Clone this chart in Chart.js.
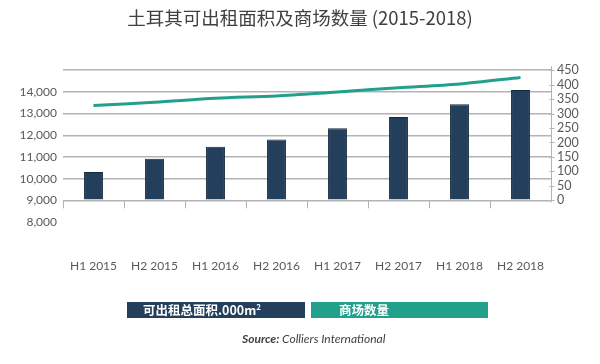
<!DOCTYPE html>
<html>
<head>
<meta charset="utf-8">
<script src="https://cdn.jsdelivr.net/npm/chart.js@4.4.0/dist/chart.umd.min.js"></script>
<style>
    html, body { margin: 0; padding: 0; background: #ffffff; }
    #wrap { position: relative; width: 600px; height: 364px; }
    #legend { position: absolute; left: 0; top: 0; }
    .lg { position: absolute; top: 302px; height: 16px; color: #fff; font: bold 12.5px "Noto Sans CJK SC", Lato, sans-serif; line-height: 16px; white-space: nowrap; }
    .lg sup { font-size: 8px; line-height: 0; }
    #source { position: absolute; left: 242px; top: 331px; font: italic 12px Lato, "Open Sans", sans-serif; color: #404040; }
</style>
</head>
<body>
<div id="wrap">
    <canvas id="chart" width="600" height="364"></canvas>
    <div id="legend"></div>
    <div id="source"><b>Source:</b> Colliers International</div>
</div>
<script>
const titleText = '土耳其可出租面积及商场数量 (2015-2018)';
const periods = ['H1 2015', 'H2 2015', 'H1 2016', 'H2 2016', 'H1 2017', 'H2 2017', 'H1 2018', 'H2 2018'];
const areaValues = [10300, 10920, 11470, 11800, 12320, 12840, 13430, 14090];   // 可出租总面积 .000m2
const mallCounts = [328, 339, 353, 361, 375, 389, 402, 425];                    // 商场数量
const areaTicks = [8000, 9000, 10000, 11000, 12000, 13000, 14000, 15000];
const areaLabelled = [8000, 9000, 10000, 11000, 12000, 13000, 14000];
const countTicks = [0, 50, 100, 150, 200, 250, 300, 350, 400, 450];

const navy = '#243f5c';
const teal = '#22a08c';
const gridColor = '#b4b4b4';
const labelColor = '#595959';

// tick marks on the 9000 baseline and the right axis line
const axisMarks = {
    id: 'axisMarks',
    afterDraw(chart) {
        const ctx = chart.ctx;
        const x = chart.scales.x;
        const y = chart.scales.y;
        const y1 = chart.scales.y1;
        const base = y.getPixelForValue(9000);
        ctx.save();
        ctx.strokeStyle = gridColor;
        ctx.lineWidth = 1;
        const half = (x.getPixelForValue(1) - x.getPixelForValue(0)) / 2;
        for (let i = 0; i < periods.length; i++) {
            const px = Math.round(x.getPixelForValue(i) - half) + 0.5;
            ctx.beginPath();
            ctx.moveTo(px, base);
            ctx.lineTo(px, base + 8);
            ctx.stroke();
        }
        const ax = Math.round(y1.left) + 0.5;
        ctx.beginPath();
        ctx.moveTo(ax, y1.getPixelForValue(450) - 4);
        ctx.lineTo(ax, y1.getPixelForValue(0) + 2);
        ctx.stroke();
        countTicks.forEach(v => {
            const py = Math.round(y1.getPixelForValue(v)) + 0.5;
            ctx.beginPath();
            ctx.moveTo(ax - 2, py);
            ctx.lineTo(ax + 3, py);
            ctx.stroke();
        });
        ctx.restore();
    }
};

const chart = new Chart(document.getElementById('chart').getContext('2d'), {
    data: {
        labels: periods,
        datasets: [{
            type: 'line',
            label: '商场数量',
            data: mallCounts,
            yAxisID: 'y1',
            borderColor: teal,
            backgroundColor: teal,
            borderWidth: 3,
            tension: 0.3,
            pointRadius: 0
        }, {
            type: 'bar',
            label: '可出租总面积.000m²',
            data: areaValues,
            yAxisID: 'y',
            base: 9000,
            backgroundColor: navy,
            borderColor: '#14283c',
            borderWidth: 1,
            categoryPercentage: 1,
            barPercentage: 0.31
        }]
    },
    options: {
        responsive: false,
        animation: false,
        layout: { padding: 0 },
        plugins: {
            legend: { display: false },
            tooltip: { enabled: false },
            title: {
                display: true,
                text: titleText,
                color: '#404040',
                font: { family: '"Noto Sans CJK SC", sans-serif', size: 18.5, weight: 'normal' },
                padding: { top: 7, bottom: 41 }
            }
        },
        scales: {
            x: {
                offset: true,
                grid: { display: false },
                border: { display: false },
                ticks: { color: labelColor, padding: 29, maxRotation: 0, font: { family: 'Lato', size: 12 } },
                afterFit(scale) { scale.height = 142; }
            },
            y: {
                position: 'left',
                min: 8000,
                max: 15000,
                border: { display: false },
                grid: {
                    drawTicks: false,
                    lineWidth: 1.5,
                    color: ctx => ctx.tick && ctx.tick.value === 8000 ? 'rgba(0,0,0,0)' : gridColor
                },
                afterBuildTicks(scale) { scale.ticks = areaTicks.map(v => ({ value: v })); },
                ticks: {
                    color: labelColor,
                    padding: 6,
                    autoSkip: false,
                    font: { family: 'Lato', size: 12 },
                    callback: v => areaLabelled.includes(v) ? v.toLocaleString('en-US') : ''
                },
                afterFit(scale) { scale.width = 63; }
            },
            y1: {
                position: 'right',
                min: -75,
                max: 450,
                border: { display: false },
                grid: { drawOnChartArea: false, drawTicks: false },
                afterBuildTicks(scale) { scale.ticks = countTicks.map(v => ({ value: v })); },
                ticks: { color: labelColor, padding: 6, autoSkip: false, font: { family: 'Lato', size: 12.5 } },
                afterFit(scale) { scale.width = 49; }
            }
        }
    },
    plugins: [axisMarks]
});

// html legend built from the datasets
const legendBoxes = [
    { ds: 1, left: 127, width: 178, indent: 16 },
    { ds: 0, left: 311, width: 177, indent: 28 }
];
const legendEl = document.getElementById('legend');
legendBoxes.forEach(b => {
    const ds = chart.data.datasets[b.ds];
    const el = document.createElement('div');
    el.className = 'lg';
    el.style.left = b.left + 'px';
    el.style.width = (b.width - b.indent) + 'px';
    el.style.paddingLeft = b.indent + 'px';
    el.style.background = ds.backgroundColor;
    el.innerHTML = ds.label.replace('²', '<sup>2</sup>');
    legendEl.appendChild(el);
});
</script>
</body>
</html>
